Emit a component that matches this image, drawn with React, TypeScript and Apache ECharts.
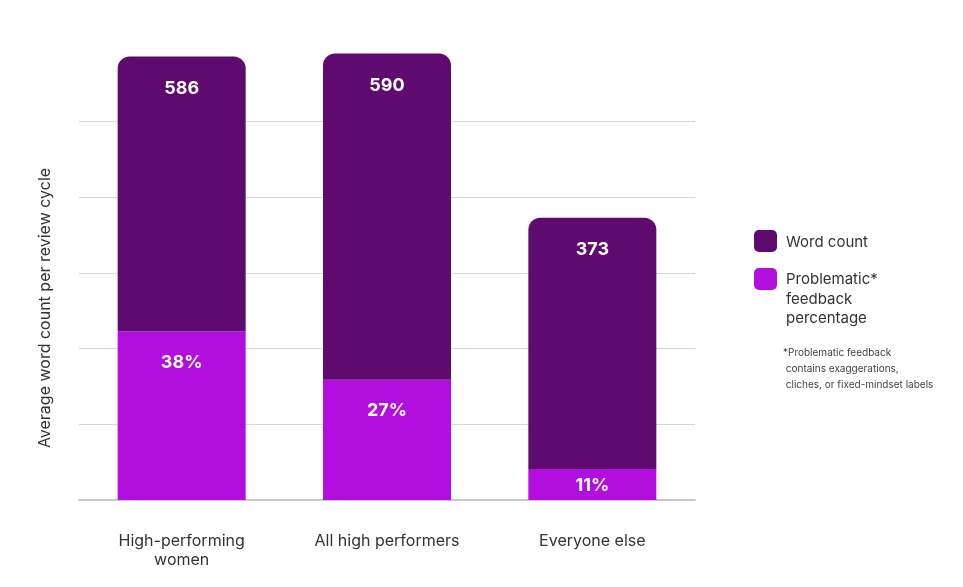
import React, { useEffect, useRef } from "react";
import * as echarts from "echarts";

const categories = ["High-performing\nwomen", "All high performers", "Everyone else"];
const wordCounts = [586, 590, 373];
const problematicPct = [38, 27, 11];

const DARK = "#5e0a6f";
const PINK = "#b20fde";
const FONT = "Inter, 'Noto Sans', sans-serif";

export default function App() {
  const ref = useRef<HTMLDivElement>(null);
  useEffect(() => {
    const chart = echarts.init(ref.current!, null, { renderer: "svg" });
    const pinkVals = wordCounts.map((w, i) => Math.round((w * problematicPct[i]) / 100));
    const darkVals = wordCounts.map((w, i) => w - pinkVals[i]);
    chart.setOption({
      animation: false,
      textStyle: { fontFamily: FONT },
      grid: { left: 79, right: 268, top: 46, bottom: 87 },
      xAxis: {
        type: "category",
        data: categories,
        axisLine: { lineStyle: { color: "#c8c8c8", width: 2 } },
        axisTick: { show: false },
        axisLabel: { color: "#333", fontSize: 16, margin: 30, lineHeight: 19, fontFamily: FONT },
      },
      yAxis: {
        type: "value",
        min: 0,
        max: 600,
        interval: 100,
        axisLabel: { show: false },
        splitLine: { show: true, showMaxLine: false, lineStyle: { color: "#d6d6d6", width: 1 } },
      },
      series: [
        {
          type: "bar",
          stack: "a",
          barWidth: 128,
          data: pinkVals.map((v, i) => ({
            value: v,
            label: i === 2 ? { position: "inside", distance: 0 } : undefined,
          })),
          itemStyle: { color: PINK },
          label: {
            show: true,
            position: "insideTop",
            distance: 21,
            color: "#fff",
            fontSize: 18,
            fontWeight: "bold",
            fontFamily: FONT,
            formatter: (p: any) => problematicPct[p.dataIndex] + "%",
          },
        },
        {
          type: "bar",
          stack: "a",
          barWidth: 128,
          data: darkVals,
          itemStyle: { color: DARK, borderRadius: [12, 12, 0, 0] },
          label: {
            show: true,
            position: "insideTop",
            distance: 22,
            color: "#fff",
            fontSize: 18,
            fontWeight: "bold",
            fontFamily: FONT,
            formatter: (p: any) => String(wordCounts[p.dataIndex]),
          },
        },
      ],
      graphic: [
        {
          type: "text",
          x: 44,
          y: 308,
          rotation: Math.PI / 2,
          style: {
            text: "Average word count per review cycle",
            fill: "#333",
            fontSize: 16,
            fontFamily: FONT,
            align: "center",
            verticalAlign: "middle",
          },
        },
        { type: "rect", shape: { x: 754, y: 230, width: 23, height: 22, r: 5 }, style: { fill: DARK } },
        {
          type: "text",
          x: 786,
          y: 241,
          style: { text: "Word count", fill: "#333", fontSize: 15, fontFamily: FONT, verticalAlign: "middle" },
        },
        { type: "rect", shape: { x: 754, y: 268, width: 23, height: 22, r: 5 }, style: { fill: PINK } },
        {
          type: "text",
          x: 786,
          y: 269,
          style: {
            text: "Problematic*\nfeedback\npercentage",
            fill: "#333",
            fontSize: 15,
            lineHeight: 19.5,
            fontFamily: FONT,
            verticalAlign: "top",
          },
        },
        {
          type: "text",
          x: 783,
          y: 344,
          style: {
            text: "*Problematic feedback\n contains exaggerations,\n cliches, or fixed-mindset labels",
            fill: "#444",
            fontSize: 10,
            lineHeight: 16,
            fontFamily: FONT,
            verticalAlign: "top",
          },
        },
      ],
    });
    return () => chart.dispose();
  }, []);
  return <div ref={ref} style={{ position: "fixed", left: 0, top: 0, width: 963, height: 587 }} />;
}
